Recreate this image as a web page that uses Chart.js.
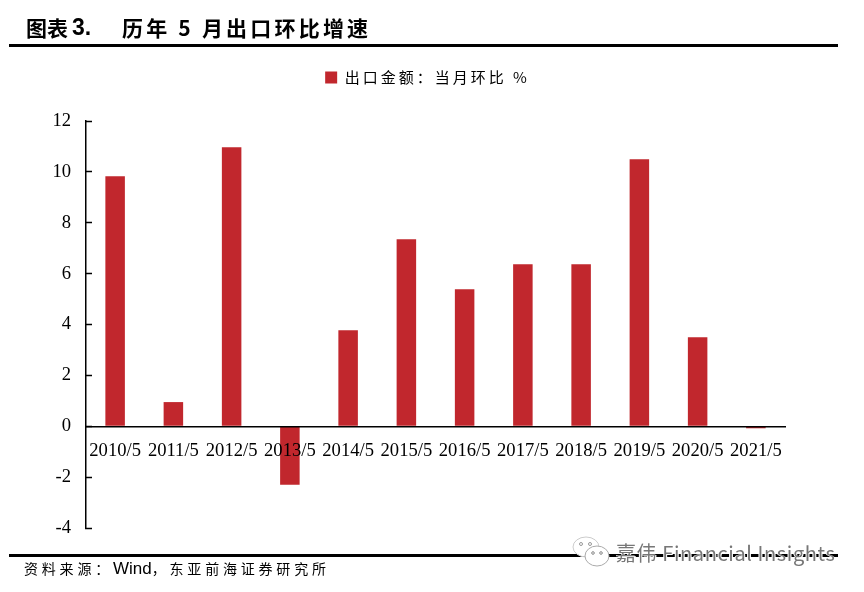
<!DOCTYPE html>
<html>
<head>
<meta charset="utf-8">
<title>历年5月出口环比增速</title>
<script src="https://cdn.jsdelivr.net/npm/chart.js@4/dist/chart.umd.min.js"></script>
<style>
  html, body { margin: 0; padding: 0; background: #fff; }
  #page { position: relative; width: 864px; height: 592px; overflow: hidden; }
  #chart { position: absolute; left: 0; top: 0; }
  .txt { position: absolute; white-space: nowrap; color: #000; font-family: "Noto Sans CJK SC", sans-serif; }
  .rule { position: absolute; background: #000; height: 3px; }
  #mark { position: absolute; left: 616px; top: 538px; font: 20px "Noto Sans CJK SC", sans-serif; letter-spacing: 0.6px; color: #777; white-space: nowrap;
    text-shadow: 1px 1px 0 #fff, -1px 0 0 #fff; }
  #icon { position: absolute; left: 572px; top: 536px; }
</style>
</head>
<body>
<div id="page">
  <canvas id="chart" width="864" height="592"></canvas>
  <div class="txt" style="left:26px;top:12px;font-size:21px;line-height:30px;font-weight:700">图表</div>
  <div class="txt" style="left:72px;top:12px;font:700 23px/30px 'Liberation Sans'">3.</div>
  <div class="txt" style="left:122px;top:12px;font-size:21px;line-height:30px;font-weight:700;letter-spacing:3.2px">历年 5 月出口环比增速</div>
  <div class="rule" style="left:9px;top:44px;width:829px"></div>
  <div class="rule" style="left:9px;top:554px;width:829px"></div>
  <div class="txt" style="left:24px;top:557px;font-size:14px;line-height:22px;letter-spacing:3.8px">资料来源：<span style="font:17px 'Liberation Sans';letter-spacing:0">Wind</span>，东亚前海证券研究所</div>
  <svg id="icon" width="40" height="32" viewBox="0 0 40 32">
    <ellipse cx="14" cy="11" rx="13" ry="10" fill="#fff" stroke="#ccc"/>
    <ellipse cx="25" cy="20" rx="12" ry="10" fill="#fff" stroke="#aaa"/>
    <circle cx="9" cy="8" r="1.5" fill="none" stroke="#999"/>
    <circle cx="18" cy="8" r="1.5" fill="none" stroke="#999"/>
    <circle cx="21" cy="17" r="1.3" fill="none" stroke="#888"/>
    <circle cx="29" cy="17" r="1.3" fill="none" stroke="#888"/>
  </svg>
  <div id="mark">嘉伟 Financial Insights</div>
</div>
<script>
const categories = ['2010/5', '2011/5', '2012/5', '2013/5', '2014/5', '2015/5', '2016/5', '2017/5', '2018/5', '2019/5', '2020/5', '2021/5'];
const exportMoM = [9.83, 0.95, 10.97, -2.3, 3.77, 7.35, 5.39, 6.37, 6.37, 10.5, 3.5, -0.08];
const seriesName = '出口金额：当月环比 %';
const yMin = -4;
const yMax = 12;
const yStep = 2;

const tickFont = { family: '"Liberation Serif"', size: 18.6 };

// legend text is spaced out in the original and sits right of centre, well above the plot
const legendTweaks = {
  id: 'legendTweaks',
  beforeLayout(chart) { chart.ctx.letterSpacing = '3px'; },
  afterLayout(chart) {
    chart.ctx.letterSpacing = '0px';
    chart.legend.top = 70;
    chart.legend.left += 35;
    chart.legend.right += 35;
  },
  beforeDraw(chart) { chart.ctx.letterSpacing = '3px'; },
  beforeDatasetsDraw(chart) { chart.ctx.letterSpacing = '0px'; }
};

new Chart(document.getElementById('chart').getContext('2d'), {
  type: 'bar',
  data: {
    labels: categories,
    datasets: [{
      label: seriesName,
      data: exportMoM,
      backgroundColor: '#C1272D',
      barPercentage: 0.335,
      categoryPercentage: 1
    }]
  },
  plugins: [legendTweaks],
  options: {
    responsive: false,
    animation: false,
    layout: { padding: { left: 0, right: 79, top: 96, bottom: 64 } },
    plugins: {
      tooltip: { enabled: false },
      legend: {
        position: 'top',
        labels: {
          boxWidth: 12,
          boxHeight: 12,
          color: '#000',
          padding: 0,
          font: { family: '"Noto Sans CJK SC"', size: 15 }
        }
      }
    },
    scales: {
      x: {
        position: { y: 0 },
        grid: { display: false, drawTicks: false },
        border: { display: true, color: '#000', width: 1.5, z: 1 },
        ticks: { z: 1, color: '#000', font: tickFont, padding: 14, autoSkip: false, maxRotation: 0 }
      },
      y: {
        min: yMin,
        max: yMax,
        afterFit(scale) { scale.width = 86; },
        grid: { drawOnChartArea: false, tickLength: -6, tickColor: '#000', tickWidth: 1.5 },
        border: { color: '#000', width: 1.5, z: 1 },
        ticks: { z: 1, stepSize: yStep, color: '#000', font: tickFont, padding: 21 }
      }
    }
  }
});
</script>
</body>
</html>
